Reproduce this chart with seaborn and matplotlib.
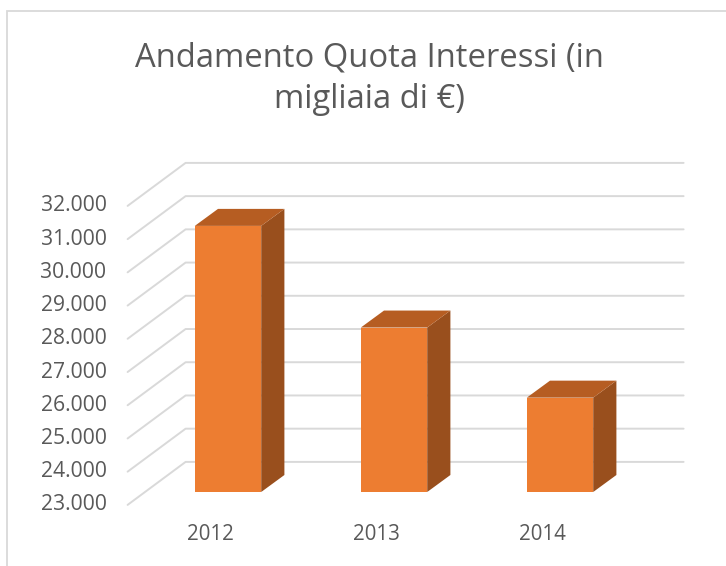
import numpy as np
import pandas as pd
import seaborn as sns
import matplotlib
matplotlib.use("Agg")
import matplotlib.pyplot as plt
from matplotlib.patches import Polygon, Rectangle

# dati
anni = ["2012", "2013", "2014"]
quota_interessi = [31010, 27950, 25840]
y_ticks = list(range(23000, 33000, 1000))
titolo = "Andamento Quota Interessi (in\nmigliaia di €)"

sns.set_style("white")
plt.rcParams["font.family"] = ["Open Sans", "DejaVu Sans"]

ARANCIO = "#ED7D31"
ARANCIO_TOP = "#B65D22"
ARANCIO_LATO = "#994F1D"
GRIGIO = "#595959"
GRIGLIA = "#D9D9D9"

fig = plt.figure(figsize=(7.26, 5.66), dpi=100)
W, H = 726, 566
# piano delle barre (in pixel del riferimento)
ax = fig.add_axes([145 / W, (H - 492) / H, 498 / W, 299 / H])

df = pd.DataFrame({"Anno": anni, "Quota": quota_interessi})
sns.barplot(data=df, x="Anno", y="Quota", color=ARANCIO, width=0.4,
            saturation=1, linewidth=0, edgecolor=ARANCIO, ax=ax, zorder=3)
ax.set_ylim(y_ticks[0], y_ticks[-1])
ax.set_xlim(-0.5, len(anni) - 0.5)
ax.axis("off")

# offset prospettici (pixel)
FRONT = np.array([-17.4, -12.9])
BACK = np.array([40.6, 30.1])
DEPTH = np.array([23.2, 17.0])


def shift(x, y, off):
    p = ax.transData.transform((x, y))
    return ax.transData.inverted().transform(p + off)


# griglia 3D: diagonale a sinistra + linee sulla parete di fondo
for v in y_ticks:
    a = shift(-0.5, v, FRONT)
    b = shift(-0.5, v, BACK)
    c = shift(len(anni) - 0.5, v, BACK)
    ax.plot([a[0], b[0], c[0]], [a[1], b[1], c[1]], color=GRIGLIA,
            lw=1.4, clip_on=False, zorder=0)
    lab = shift(-0.5, v, FRONT + np.array([-21, 0]))
    ax.text(lab[0], lab[1], f"{v:,}".replace(",", "."), ha="right",
            va="center", fontsize=15.2, color=GRIGIO)

for i, a in enumerate(anni):
    p = shift(i, y_ticks[0], FRONT + np.array([0, -30]))
    ax.text(p[0], p[1], a, ha="center", va="center", fontsize=14.8,
            color=GRIGIO)

# facce laterali e superiori delle barre
base = y_ticks[0]
for bar in ax.patches:
    x0 = bar.get_x()
    x1 = x0 + bar.get_width()
    top = bar.get_height()
    lato = [(x1, base), (x1, top), tuple(shift(x1, top, DEPTH)),
            tuple(shift(x1, base, DEPTH))]
    sopra = [(x0, top), (x1, top), tuple(shift(x1, top, DEPTH)),
             tuple(shift(x0, top, DEPTH))]
    ax.add_patch(Polygon(lato, closed=True, facecolor=ARANCIO_LATO,
                         edgecolor="none", clip_on=False, zorder=2))
    ax.add_patch(Polygon(sopra, closed=True, facecolor=ARANCIO_TOP,
                         edgecolor="none", clip_on=False, zorder=2))

# titolo
righe = titolo.split("\n")
fig.text(369 / W, 1 - 67 / H, righe[0], ha="center", va="baseline",
         fontsize=23.6, color=GRIGIO)
fig.text(369 / W, 1 - 108 / H, righe[1], ha="center", va="baseline",
         fontsize=23.6, color=GRIGIO)

# bordo dell'area del grafico
fig.add_artist(Rectangle((7 / W, -0.1), 1.2, 1.1 - 11 / H,
                         transform=fig.transFigure, fill=False,
                         edgecolor=GRIGLIA, lw=1.3))

fig.savefig("out.png", dpi=100)
